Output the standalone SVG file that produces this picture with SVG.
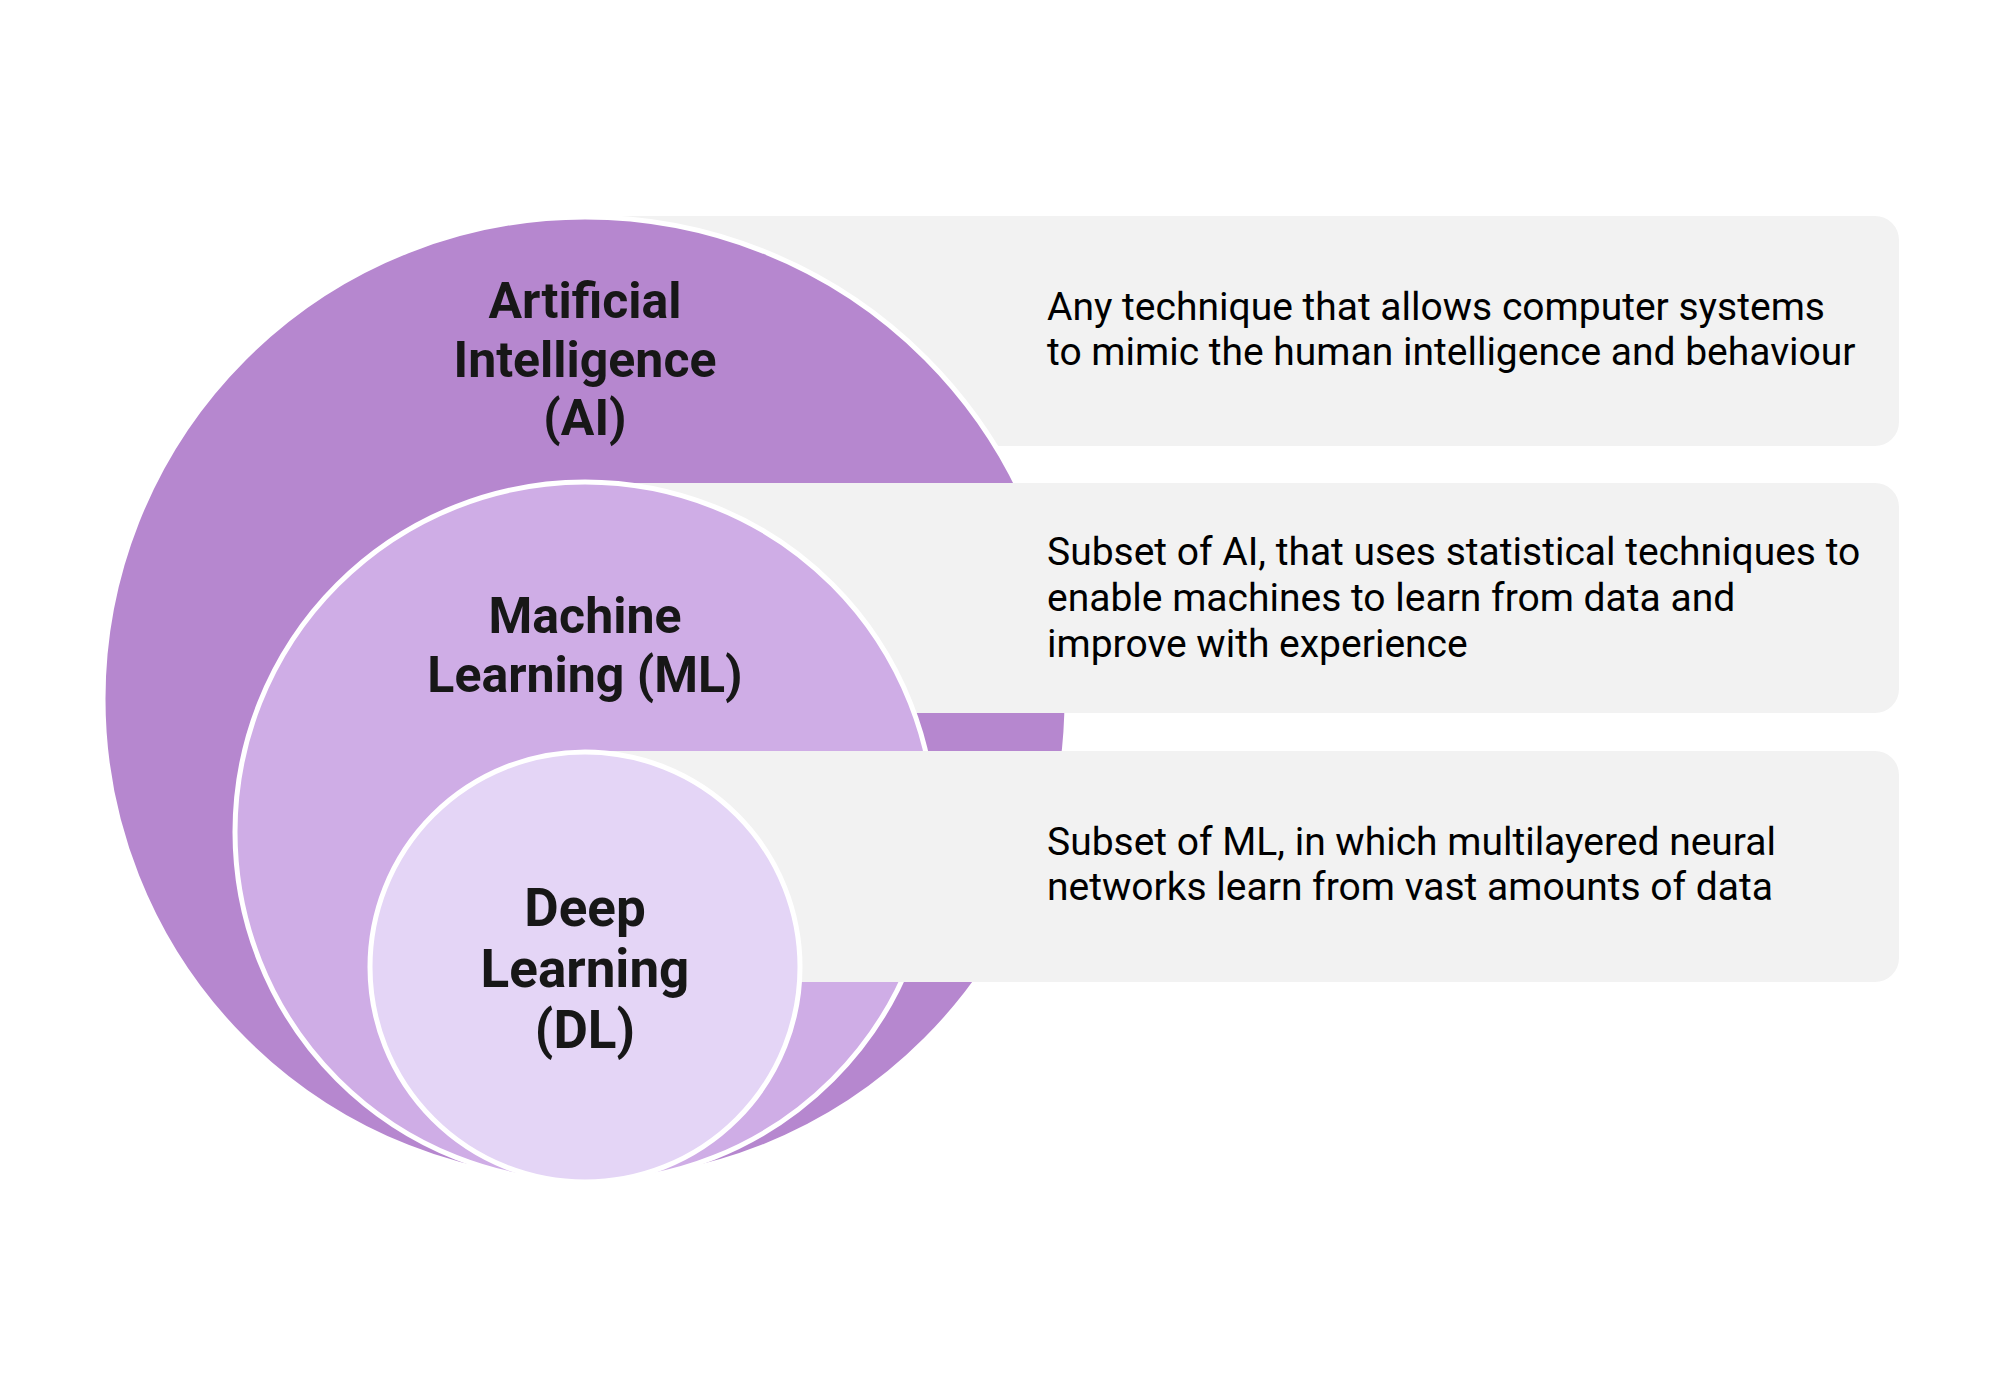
<svg xmlns="http://www.w3.org/2000/svg" width="2000" height="1400" viewBox="0 0 2000 1400">
<style>
.panel{fill:#f2f2f2}
.ring{stroke:#ffffff;stroke-width:5}
.ai{fill:#b687cf}
.ml{fill:#cfade6}
.dl{fill:#e4d5f6}
.label{font-family:Roboto,"Liberation Sans",sans-serif;font-weight:700;fill:#171717;text-anchor:middle}
.desc{font-family:Roboto,"Liberation Sans",sans-serif;font-size:39px;fill:#000000}
</style>
<rect width="2000" height="1400" fill="#ffffff"/>
<g id="ai-panel">
<rect class="panel" x="585" y="216" width="1314" height="230" rx="24"/>
<text class="desc" x="1047" y="320">Any technique that allows computer systems</text>
<text class="desc" x="1047" y="365">to mimic the human intelligence and behaviour</text>
</g>
<g id="ai-node">
<circle class="ring ai" cx="585" cy="699" r="482"/>
<text class="label" font-size="50" x="585" y="318">Artificial</text>
<text class="label" font-size="50" x="585" y="377">Intelligence</text>
<text class="label" font-size="50" x="585" y="435">(AI)</text>
</g>
<g id="ml-panel">
<rect class="panel" x="585" y="483" width="1314" height="230" rx="24"/>
<text class="desc" x="1047" y="565">Subset of AI, that uses statistical techniques to</text>
<text class="desc" x="1047" y="611">enable machines to learn from data and</text>
<text class="desc" x="1047" y="657">improve with experience</text>
</g>
<g id="ml-node">
<circle class="ring ml" cx="585" cy="832" r="350"/>
<text class="label" font-size="50" x="585" y="633">Machine</text>
<text class="label" font-size="50" x="585" y="692">Learning (ML)</text>
</g>
<g id="dl-panel">
<rect class="panel" x="585" y="751" width="1314" height="231" rx="24"/>
<text class="desc" x="1047" y="855">Subset of ML, in which multilayered neural</text>
<text class="desc" x="1047" y="900">networks learn from vast amounts of data</text>
</g>
<g id="dl-node">
<circle class="ring dl" cx="585" cy="967" r="215"/>
<text class="label" font-size="53" x="585" y="926">Deep</text>
<text class="label" font-size="53" x="585" y="987">Learning</text>
<text class="label" font-size="53" x="585" y="1048">(DL)</text>
</g>
<g id="connectors"></g>
</svg>
